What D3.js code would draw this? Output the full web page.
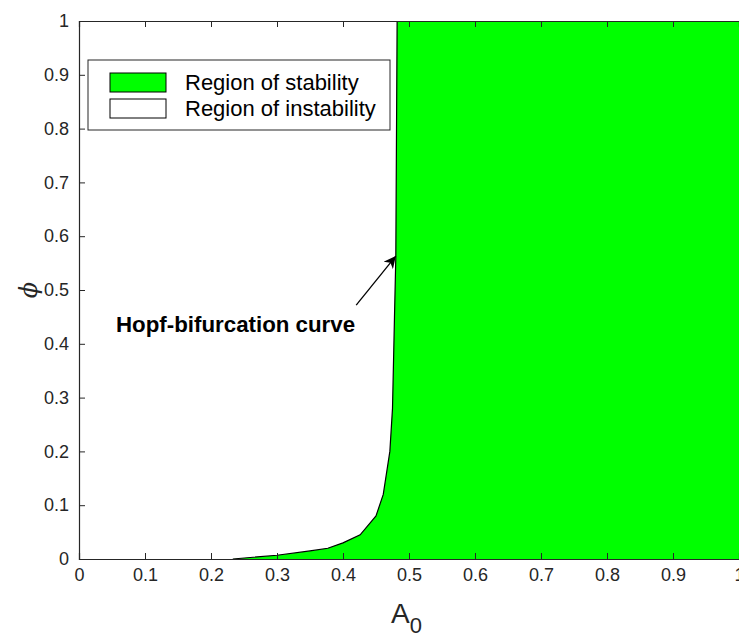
<!DOCTYPE html>
<html>
<head>
<meta charset="utf-8">
<script src="https://cdn.jsdelivr.net/npm/d3@7"></script>
<style>
  body { margin: 0; background: #fff; }
  svg text { font-family: "Liberation Sans", Arial, sans-serif; }
</style>
</head>
<body>
<svg id="chart" width="739" height="634"></svg>
<script>
// Hopf-bifurcation boundary
let A0 = [0.233, 0.30, 0.35, 0.377, 0.40, 0.426, 0.45, 0.461, 0.471, 0.475, 0.478, 0.480, 0.482];
let phi = [0, 0.007, 0.015, 0.02, 0.03, 0.045, 0.08, 0.12, 0.2, 0.28, 0.45, 0.56, 1.0];
let xTicks = [0, 0.1, 0.2, 0.3, 0.4, 0.5, 0.6, 0.7, 0.8, 0.9, 1];
let yTicks = [0, 0.1, 0.2, 0.3, 0.4, 0.5, 0.6, 0.7, 0.8, 0.9, 1];
let legendLabels = ['Region of stability', 'Region of instability'];
let legendFills = ['#00ff00', '#ffffff'];
let arrowFrom = [0.420, 0.472];
let arrowTo = [0.480, 0.563];

let svg = d3.select('#chart');
let axisColor = '#262626';

let x = d3.scaleLinear().domain([0, 1]).range([79, 739]);
let y = d3.scaleLinear().domain([0, 1]).range([559, 21]);

let curve = A0.map((a, i) => [a, phi[i]]);
let tickFmt = d => (d === 0 || d === 1) ? String(d) : d3.format('.1f')(d);

// stable region = right of the curve
let region = curve.concat([[1, 1], [1, 0]]);
svg.append('path')
  .attr('d', d3.line().x(d => x(d[0])).y(d => y(d[1]))(region) + 'Z')
  .attr('fill', '#00ff00')
  .attr('stroke', 'none');

svg.append('path')
  .attr('d', d3.line().x(d => x(d[0])).y(d => y(d[1]))(curve))
  .attr('fill', 'none')
  .attr('stroke', '#000')
  .attr('stroke-width', 1.2);

// axes, ticks pointing inward
let xAxis = svg.append('g')
  .attr('transform', 'translate(0,' + y(0) + ')')
  .call(d3.axisBottom(x).tickValues(xTicks).tickSize(-6).tickPadding(9).tickFormat(tickFmt));
let topAxis = svg.append('g')
  .attr('transform', 'translate(0,' + y(1) + ')')
  .call(d3.axisTop(x).tickValues(xTicks).tickSize(-6).tickFormat(''));
let yAxis = svg.append('g')
  .attr('transform', 'translate(' + x(0) + ',0)')
  .call(d3.axisLeft(y).tickValues(yTicks).tickSize(-6).tickPadding(10).tickFormat(tickFmt));

[xAxis, topAxis, yAxis].forEach(g => {
  g.select('.domain').attr('stroke', axisColor).attr('stroke-width', 1.2);
  g.selectAll('.tick line').attr('stroke', axisColor).attr('stroke-width', 1);
  g.selectAll('.tick text')
    .attr('fill', axisColor)
    .attr('font-size', 18)
    .style('font-family', '"Liberation Sans", Arial, sans-serif');
});

// axis titles
let xt = svg.append('text')
  .attr('x', 391)
  .attr('y', 623)
  .attr('fill', axisColor)
  .attr('font-size', 28);
xt.append('tspan').text('A');
xt.append('tspan').attr('dy', 10).attr('font-size', 22).text('0');

svg.append('text')
  .attr('transform', 'translate(37,290)rotate(-90)')
  .attr('text-anchor', 'middle')
  .attr('fill', axisColor)
  .attr('font-size', 24)
  .style('font-family', '"DejaVu Serif", serif')
  .style('font-style', 'italic')
  .text('\u03D5');

// annotation
svg.append('text')
  .attr('x', 116)
  .attr('y', 332)
  .attr('font-size', 22.3)
  .attr('font-weight', 'bold')
  .attr('fill', '#000')
  .text('Hopf-bifurcation curve');

svg.append('defs').append('marker')
  .attr('id', 'head')
  .attr('viewBox', '0 0 10 10')
  .attr('refX', 10).attr('refY', 5)
  .attr('markerWidth', 15).attr('markerHeight', 12)
  .attr('markerUnits', 'userSpaceOnUse')
  .attr('orient', 'auto')
  .append('path')
  .attr('d', 'M0,0 L10,5 L0,10 L3,5 Z')
  .attr('fill', '#000');

svg.append('line')
  .attr('x1', x(arrowFrom[0])).attr('y1', y(arrowFrom[1]))
  .attr('x2', x(arrowTo[0])).attr('y2', y(arrowTo[1]))
  .attr('stroke', '#000')
  .attr('stroke-width', 1.3)
  .attr('marker-end', 'url(#head)');

// legend
let legend = svg.append('g');
legend.append('rect')
  .attr('x', 88).attr('y', 60)
  .attr('width', 302).attr('height', 70)
  .attr('fill', '#fff')
  .attr('stroke', axisColor)
  .attr('stroke-width', 1);

legendLabels.forEach((lab, i) => {
  legend.append('rect')
    .attr('x', 110).attr('y', 73 + i * 26)
    .attr('width', 56).attr('height', 19)
    .attr('fill', legendFills[i])
    .attr('stroke', '#000')
    .attr('stroke-width', 1);
  legend.append('text')
    .attr('x', 185).attr('y', 90 + i * 26)
    .attr('font-size', 22)
    .attr('fill', '#000')
    .text(lab);
});
</script>
</body>
</html>
